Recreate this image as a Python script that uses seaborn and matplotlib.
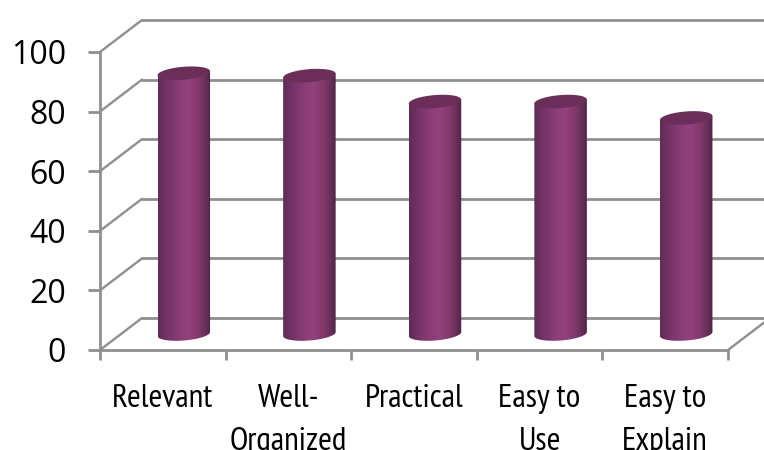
import numpy as np
import matplotlib
matplotlib.use("Agg")
import matplotlib.pyplot as plt
import seaborn as sns
from matplotlib.colors import LinearSegmentedColormap
from matplotlib.path import Path
from matplotlib.patches import PathPatch

categories = ["Relevant", "Well-\nOrganized", "Practical", "Easy to\nUse", "Easy to\nExplain"]
values = [87.5, 86.7, 78, 78, 72.5]
y_ticks = [0, 20, 40, 60, 80, 100]

GRID = "#8f8f8f"
W, H = 764, 450
DEPTH_X = 42 / 125.6      # wall depth, category units
DEPTH_Y = 32 / 2.98       # wall depth, value units
BAR_W = 52.5 / 125.6

sns.set_theme(style="white")
plt.rcParams["font.family"] = ["Open Sans", "DejaVu Sans"]

fig = plt.figure(figsize=(W / 100, H / 100), dpi=100)
ax = fig.add_axes([100 / W, 1 - 350 / H, 628 / W, 298 / H])
sns.barplot(x=categories, y=values, color="#8a3d74", width=BAR_W, ax=ax, zorder=3)
ax.set_xlim(-0.5, 4.5)
ax.set_ylim(0, 100)

# back wall, left wall and floor
for t in y_ticks:
    ax.plot([-0.5 + DEPTH_X, 5], [t + DEPTH_Y] * 2, color=GRID, lw=2.0, clip_on=False, zorder=1)
    ax.plot([-0.5, -0.5 + DEPTH_X], [t, t + DEPTH_Y], color=GRID, lw=1.7, clip_on=False, zorder=1)
ax.plot([4.5, 4.5 + DEPTH_X], [0, DEPTH_Y], color=GRID, lw=1.7, clip_on=False, zorder=1)

# cylinders
cmap = LinearSegmentedColormap.from_list(
    "cyl", [(0, "#602b54"), (0.2, "#77346a"), (0.4, "#8a3c76"), (0.58, "#93417d"),
            (0.78, "#803869"), (0.92, "#632d57"), (1, "#4f2446")]
)
grad = np.linspace(0, 1, 256).reshape(1, -1)
B = 6.5 / 2.98
K = 2.0 / 2.98
t_top = np.linspace(0, np.pi * 2, 80)
t_low = np.linspace(np.pi, np.pi * 2, 40)

for patch in list(ax.patches):
    x0 = patch.get_x() + DEPTH_X / 2
    w = patch.get_width()
    h = patch.get_height()
    y0 = DEPTH_Y / 2
    cx, a = x0 + w / 2, w / 2
    patch.set_visible(False)

    lx = cx + a * np.cos(t_low)
    ly = y0 + B * np.sin(t_low) + K * np.cos(t_low)
    body = np.vstack([[cx - a, y0 + h - K], [cx - a, y0 - K]])
    body = np.vstack([body, np.column_stack([lx, ly])[1:], [cx + a, y0 + h + K], [cx - a, y0 + h - K]])
    clip = PathPatch(Path(body), transform=ax.transData, fc="none", ec="none")
    ax.add_patch(clip)
    im = ax.imshow(grad, cmap=cmap, aspect="auto", extent=(x0, x0 + w, y0 - B - 1, y0 + h + B),
                   zorder=3, interpolation="bilinear")
    im.set_clip_path(clip)

    ex = cx + a * np.cos(t_top)
    ey = y0 + h + B * np.sin(t_top) + K * np.cos(t_top)
    ax.fill(ex, ey, color="#6b2e58", zorder=4, clip_on=False, lw=0)

ax.set_xlim(-0.5, 4.5)
ax.set_ylim(0, 100)

# axes
sns.despine(ax=ax, top=True, right=True)
for s in ("left", "bottom"):
    ax.spines[s].set_color(GRID)
    ax.spines[s].set_linewidth(2.0)
    ax.spines[s].set_zorder(2)

ax.set_yticks(y_ticks)
ax.set_yticklabels([str(t) for t in y_ticks], fontsize=23, color="black", family=["Open Sans", "DejaVu Sans"])
ax.tick_params(axis="y", left=True, length=8.5, width=2.0, color=GRID, pad=16)

ax.set_xticks(range(len(categories)))
ax.set_xticklabels(categories, fontsize=24, color="black", linespacing=1.55,
                   family=["PT Sans Narrow", "DejaVu Sans"])
ax.set_xticks(np.arange(-0.5, 5, 1), minor=True)
ax.tick_params(axis="x", which="major", bottom=False, pad=18.5)
ax.tick_params(axis="x", which="minor", bottom=True, length=7.5, width=2.0, color=GRID)
ax.set_xlabel("")
ax.set_ylabel("")

fig.savefig("out.png", dpi=100, facecolor="white")
